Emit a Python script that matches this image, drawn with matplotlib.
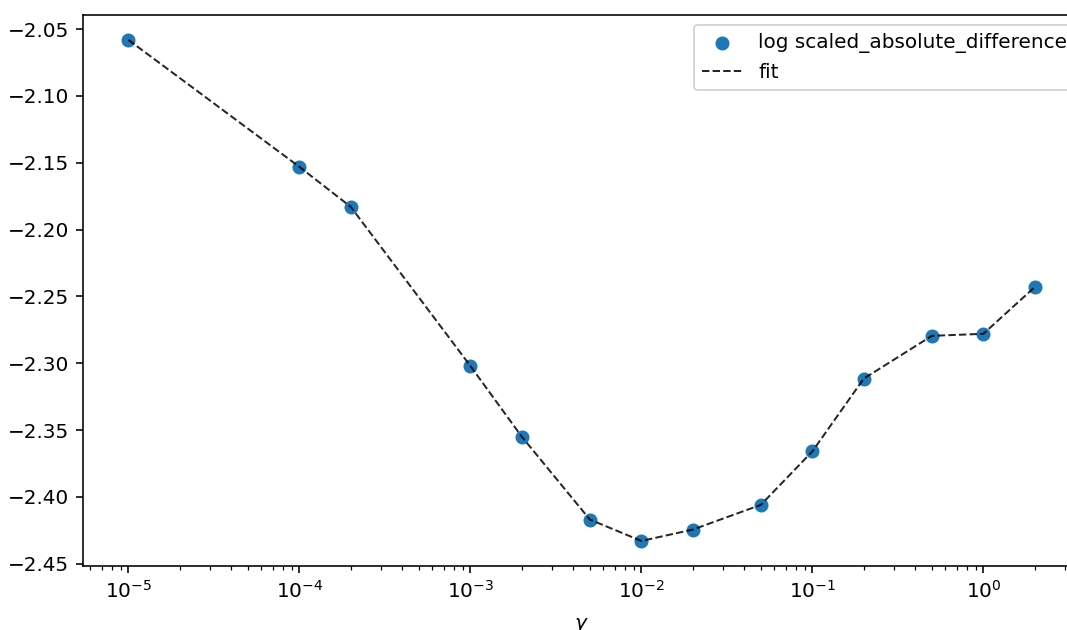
import numpy as np
import matplotlib
matplotlib.use("Agg")
import matplotlib.pyplot as plt

# gamma values and the log of the scaled absolute difference
gammas = [1e-5, 1e-4, 2e-4, 1e-3, 2e-3, 5e-3, 1e-2, 2e-2, 5e-2, 1e-1, 2e-1, 5e-1, 1.0, 2.0]
log_diff = [-2.058, -2.153, -2.183, -2.302, -2.355, -2.417, -2.433,
            -2.4245, -2.406, -2.366, -2.3115, -2.2795, -2.278, -2.243]

dpi = 144
fig = plt.figure(figsize=(1067 / dpi, 630 / dpi), dpi=dpi)
# the axes run a bit past the right edge, like the cropped original
ax = fig.add_axes([0.0778, 0.1016, 0.9345, 0.8749])

ax.scatter(gammas, log_diff, label="log scaled_absolute_difference")
ax.plot(gammas, log_diff, "k--", lw=1, alpha=0.85, label="fit")

ax.set_xscale("log")
ax.set_xlabel(r"$\gamma$", labelpad=7)
ax.legend(loc="upper right", bbox_to_anchor=(1.005, 1.0))

fig.savefig("out.png", dpi=dpi)
